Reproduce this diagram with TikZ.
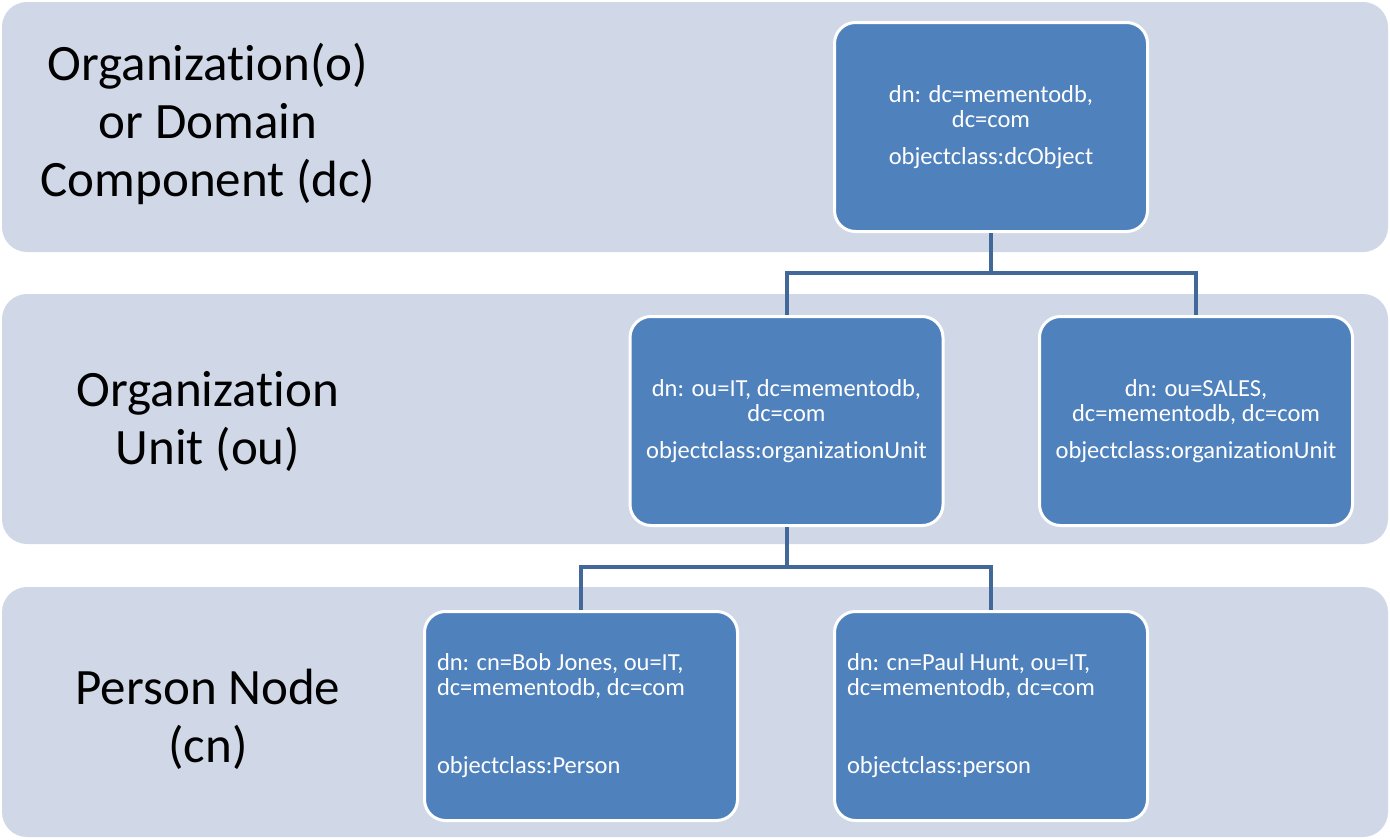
\documentclass[tikz,border=0pt]{standalone}
\usepackage{fontspec}
\setmainfont{Carlito}[Ligatures=NoCommon]
\usetikzlibrary{positioning}

\definecolor{bandfill}{HTML}{D0D8E8}
\definecolor{boxfill}{HTML}{4F81BD}
\definecolor{linkblue}{HTML}{416899}

\begin{document}
\begin{tikzpicture}[x=1pt, y=-1pt]
    \tikzstyle{band}=[rectangle, rounded corners=25pt, fill=bandfill, minimum width=1386pt, minimum height=250pt, inner sep=0pt]
    \tikzstyle{entry}=[rectangle, rounded corners=21pt, fill=boxfill, draw=white, line width=3pt, minimum width=313pt, minimum height=209pt, inner sep=0pt, text=white, align=center, font=\fontsize{24.5}{25}\selectfont]
    \tikzstyle{person}=[entry, text width=288pt, inner xsep=12.5pt, align=flush left]
    \tikzstyle{annot}=[align=center, font=\fontsize{51}{58}\selectfont]
    \tikzstyle{link}=[draw=linkblue, line width=4pt]

    \useasboundingbox (0,0) rectangle (1390,839);

    % Draw the three level bands
    \foreach \name / \y in {1/127, 2/419, 3/712}
    \node[band] (band-\name) at (695,\y) {};

    % Annotate the levels
    \node[annot] (lbl-dc) at (208,124) {Organization(o)\\or Domain\\Component (dc)};
    \node[annot] (lbl-ou) at (208,421) {Organization\\Unit (ou)};
    \node[annot] (lbl-cn) at (208,719) {Person Node\\(cn)};

    % Draw the directory entries
    \node[entry] (root) at (991,127) {dn: dc=mementodb,\\dc=com\\[12pt]objectclass:dcObject};
    \node[entry] (ou-it) at (786.5,421) {dn: ou=IT, dc=mementodb,\\dc=com\\[12pt]objectclass:organizationUnit};
    \node[entry] (ou-sales) at (1196,421) {dn: ou=SALES,\\dc=mementodb, dc=com\\[12pt]objectclass:organizationUnit};
    \node[person] (cn-bob) at (581,716) {dn: cn=Bob Jones, ou=IT,\\dc=mementodb, dc=com\\[53pt]objectclass:Person};
    \node[person] (cn-paul) at (991,716) {dn: cn=Paul Hunt, ou=IT,\\dc=mementodb, dc=com\\[53pt]objectclass:person};

    % Connect the root with the organization units
    \coordinate (bus-1) at (991,273);
    \draw[link] (root.south) -- (bus-1);
    \foreach \dest in {ou-it, ou-sales}
    \draw[link] (bus-1) -| (\dest.north);

    % Connect the IT unit with its persons
    \coordinate (bus-2) at (786.5,567);
    \draw[link] (ou-it.south) -- (bus-2);
    \foreach \dest in {cn-bob, cn-paul}
    \draw[link] (bus-2) -| (\dest.north);
\end{tikzpicture}
\end{document}
